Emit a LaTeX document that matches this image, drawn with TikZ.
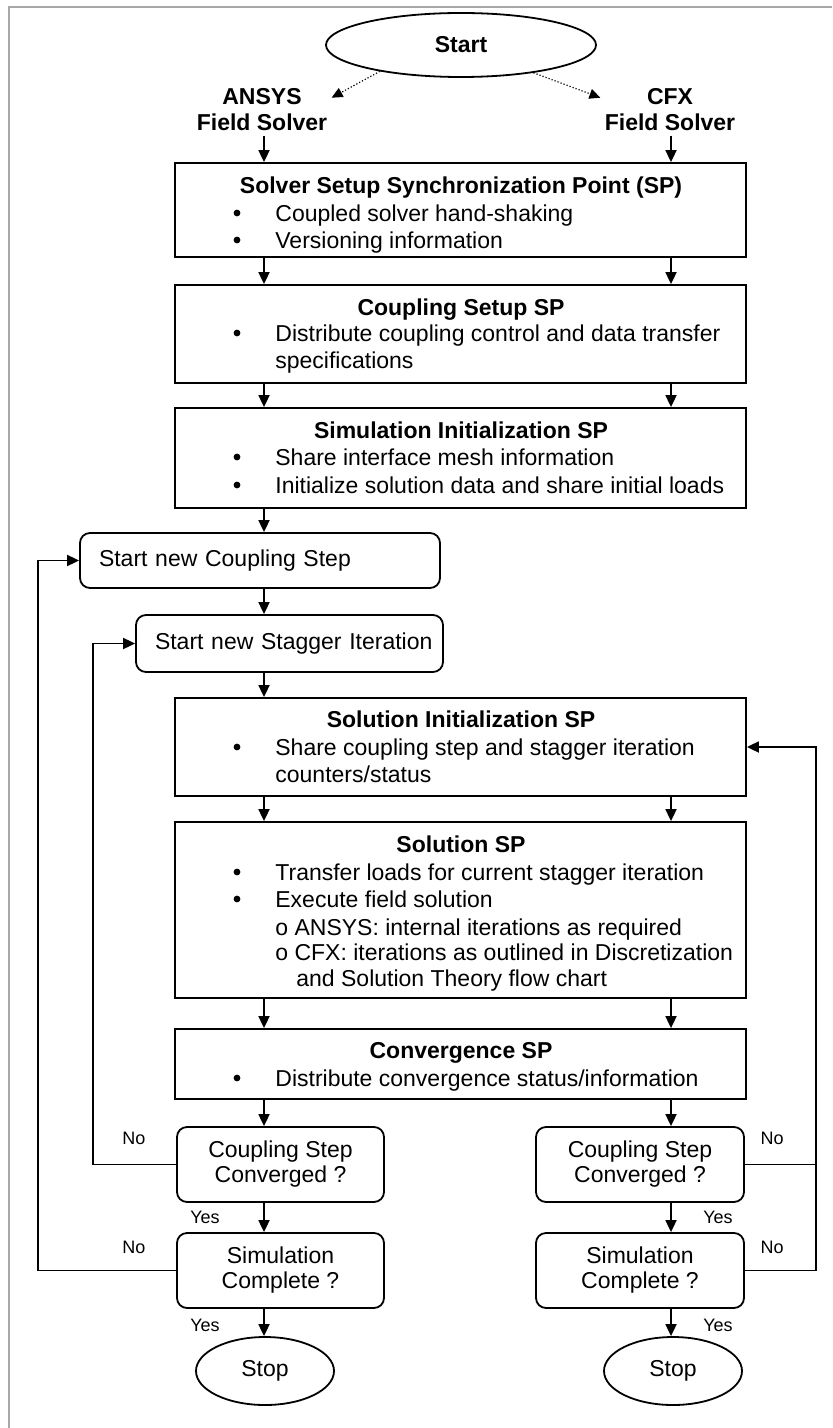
\documentclass[tikz,border=0pt]{standalone}
\usepackage{fontspec}
\setmainfont{Liberation Sans}
\usetikzlibrary{arrows.meta,positioning,shapes.geometric}
\definecolor{framegray}{RGB}{168,168,168}

\begin{document}
\begin{tikzpicture}[x=0.5pt,y=-0.5pt,
  font=\fontsize{11.5pt}{13.5pt}\selectfont,
  spbox/.style={draw, line width=0.9pt, minimum width=285.5pt, inner sep=0pt},
  hd/.style={font=\fontsize{11.5pt}{13.5pt}\selectfont\bfseries, inner sep=0pt, text height=8.2pt, text depth=0pt},
  tx/.style={anchor=west, inner sep=0pt, text height=8.2pt, text depth=0pt},
  bul/.style={circle, fill, inner sep=0pt, minimum size=3.4pt},
  rbox/.style={draw, line width=0.9pt, rounded corners=5pt, inner sep=0pt},
  oval/.style={draw, ellipse, line width=0.9pt, inner sep=0pt},
  yn/.style={font=\fontsize{9pt}{10pt}\selectfont, inner sep=0pt},
  arr/.style={-{Triangle[length=6pt,width=5.5pt]}, line width=0.9pt},
  darr/.style={-{Triangle[length=5.5pt,width=5pt]}, line width=0.6pt, densely dotted}]
\useasboundingbox (0,0) rectangle (832,1428);
\draw[framegray, line width=1pt] (9,1428) -- (9,7) -- (832,7);

% top
\node[oval, minimum width=135pt, minimum height=32pt, font=\fontsize{11.5pt}{13.5pt}\selectfont\bfseries] (start) at (461,45) {Start};
\node[align=center, inner sep=2pt, font=\fontsize{11.5pt}{13pt}\selectfont\bfseries] (ansys) at (262,110) {ANSYS\\Field Solver};
\node[align=center, inner sep=2pt, font=\fontsize{11.5pt}{13pt}\selectfont\bfseries] (cfx) at (670,110) {CFX\\Field Solver};
\coordinate (cl) at (264,0);
\coordinate (cr) at (671,0);

% synchronization points
\node[spbox, minimum height=47pt] (sync) at (460.5,210) {};
\node[hd] (syncH) at (461,185) {Solver Setup Synchronization Point (SP)};
\node[spbox, minimum height=49pt] (cset) at (460.5,334) {};
\node[hd] (csetH) at (461,307) {Coupling Setup SP};
\node[spbox, minimum height=50pt] (sinit) at (460.5,458) {};
\node[hd] (sinitH) at (461,430) {Simulation Initialization SP};

\node[rbox, minimum width=180pt, minimum height=27.5pt, inner xsep=9.5pt, text width=161pt, align=left] (cstep) at (260,560.5) {Start new Coupling Step};
\node[rbox, minimum width=153.5pt, minimum height=28.5pt, inner xsep=9.5pt, text width=134.5pt, align=left] (sstep) at (289.5,643.5) {\mbox{Start new Stagger Iteration}};

\node[spbox, minimum height=49pt] (solinit) at (460.5,747) {};
\node[hd] (solinitH) at (461,719) {Solution Initialization SP};
\node[spbox, minimum height=88pt] (sol) at (460.5,910) {};
\node[hd] (solH) at (461,844) {Solution SP};
\node[spbox, minimum height=35pt] (conv) at (460.5,1064) {};
\node[hd] (convH) at (461,1050) {Convergence SP};

% bullet lines
\foreach \yy/\tx [count=\k] in {213/Coupled solver hand-shaking, 240/Versioning information,
    333/Distribute coupling control and data transfer, 457/Share interface mesh information,
    485/Initialize solution data and share initial loads, 747/Share coupling step and stagger iteration,
    872/Transfer loads for current stagger iteration, 899/Execute field solution,
    1078/{Distribute convergence status/information}}{
  \node[bul] (b\k) at (237,\yy) {};
  \node[tx] (t\k) at (275,\yy) {\tx};
}
\foreach \xx/\yy/\tx [count=\k] in {275/360/specifications, 275/774/{counters/status},
    275/927/{o ANSYS: internal iterations as required},
    275/952/{o CFX: iterations as outlined in Discretization},
    296/978/and Solution Theory flow chart}{
  \node[tx] (c\k) at (\xx,\yy) {\tx};
}

% decisions
\node[rbox, minimum width=103.5pt, minimum height=37.5pt, align=center, font=\fontsize{11.5pt}{12.5pt}\selectfont] (dec1L) at (280.5,1164.5) {Coupling Step\\Converged ?};
\node[rbox, minimum width=103.5pt, minimum height=37.5pt, align=center, font=\fontsize{11.5pt}{12.5pt}\selectfont] (dec2L) at (280.5,1270.5) {Simulation\\Complete ?};
\node[rbox, minimum width=104pt, minimum height=37.5pt, align=center, font=\fontsize{11.5pt}{12.5pt}\selectfont] (dec1R) at (640,1164.5) {Coupling Step\\Converged ?};
\node[rbox, minimum width=104pt, minimum height=37.5pt, align=center, font=\fontsize{11.5pt}{12.5pt}\selectfont] (dec2R) at (640,1270.5) {Simulation\\Complete ?};
\node[oval, minimum width=69pt, minimum height=34pt] (stopL) at (265,1371) {Stop};
\node[oval, minimum width=69pt, minimum height=34pt] (stopR) at (673,1371) {Stop};

\node[yn] (noL1) at (134,1138) {No};
\node[yn] (noL2) at (134,1247) {No};
\node[yn] (yesL1) at (205,1217) {Yes};
\node[yn] (yesL2) at (205,1325) {Yes};
\node[yn] (noR1) at (772,1138) {No};
\node[yn] (noR2) at (772,1247) {No};
\node[yn] (yesR1) at (718,1217) {Yes};
\node[yn] (yesR2) at (718,1325) {Yes};

% connectors
\draw[darr] (start.198) -- (ansys.10);
\draw[darr] (start.339) -- (cfx.170);
\draw[arr] (ansys.south -| cl) -- (sync.north -| cl);
\draw[arr] (cfx.south -| cr) -- (sync.north -| cr);
\foreach \a/\b in {sync/cset, cset/sinit, solinit/sol, sol/conv}{
  \draw[arr] (\a.south -| cl) -- (\b.north -| cl);
  \draw[arr] (\a.south -| cr) -- (\b.north -| cr);
}
\foreach \a/\b in {sinit/cstep, cstep/sstep, sstep/solinit, conv/dec1L, dec1L/dec2L, dec2L/stopL}
  \draw[arr] (\a.south -| cl) -- (\b.north -| cl);
\foreach \a/\b in {conv/dec1R, dec1R/dec2R, dec2R/stopR}
  \draw[arr] (\a.south -| cr) -- (\b.north -| cr);

% loops back
\coordinate (lo) at (38,0);
\coordinate (li) at (93,0);
\coordinate (ro) at (816,0);
\draw[arr] (dec2L.west) -- (dec2L.west -| lo) |- (cstep.west);
\draw[arr] (dec1L.west) -- (dec1L.west -| li) |- (sstep.west);
\draw[line width=0.9pt] (dec1R.east) -- (dec1R.east -| ro);
\draw[arr] (dec2R.east) -- (dec2R.east -| ro) |- (solinit.east);
\end{tikzpicture}
\end{document}
